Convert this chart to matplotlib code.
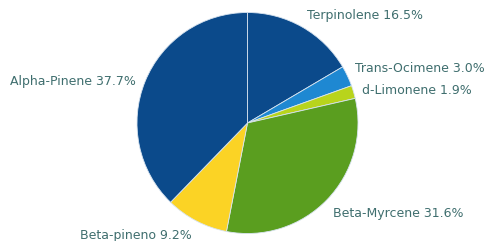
import matplotlib
matplotlib.use('Agg')
import matplotlib.pyplot as plt

# 各成分及占比
labels = ['Terpinolene', 'Trans-Ocimene', 'd-Limonene', 'Beta-Myrcene', 'Beta-pineno', 'Alpha-Pinene']
sizes = [16.5, 3.0, 1.9, 31.6, 9.2, 37.7]
colors = ['#0b4a8b', '#1e88d2', '#b8d41c', '#5a9e1f', '#fbd325', '#0b4a8b']
# 标签位置 (像素, 左上为原点)
label_pos = [(307, 15), (355, 69), (362, 91), (333, 213), (80, 236), (10, 81)]

W, H = 489, 241
fig = plt.figure(figsize=(W / 100, H / 100), dpi=100)
cx, cy, r = 247.5, 123, 110.5
ax = fig.add_axes([(cx - r) / W, (H - cy - r) / H, 2 * r / W, 2 * r / H])
ax.pie(sizes, colors=colors, startangle=90, counterclock=False,
       wedgeprops={'edgecolor': '#d8e4f0', 'linewidth': 0.6})
ax.set_xlim(-1, 1)
ax.set_ylim(-1, 1)
ax.set_aspect('auto')
ax.axis('off')

for name, val, (x, y) in zip(labels, sizes, label_pos):
    fig.text(x / W, 1 - y / H, '%s %.1f%%' % (name, val), fontsize=9,
             color='#3f6e6e', ha='left', va='center', family='DejaVu Sans')

fig.savefig('out.png', dpi=100)
